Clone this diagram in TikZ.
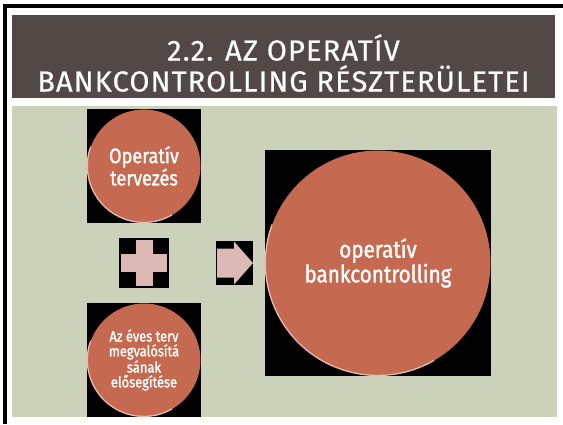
\documentclass[tikz,border=0pt]{standalone}
\usepackage{fontspec}
\setmainfont{Fira Sans}[FakeStretch=0.84]
\newfontfamily\titlefont{Fira Sans}[FakeStretch=1.0, LetterSpace=4, FakeBold=0.6]
\newfontfamily\ballfont{Fira Sans}[FakeStretch=0.86, FakeBold=1.4]
\definecolor{titlebrown}{RGB}{82,73,71}
\definecolor{slidegreen}{RGB}{204,209,186}
\definecolor{ballred}{RGB}{197,106,80}
\definecolor{shapepink}{RGB}{220,185,179}

\begin{document}
\begin{tikzpicture}[x=1pt, y=1pt,
  blackbox/.style={fill=black, inner sep=0pt, minimum size=#1},
  ball/.style={circle, fill=ballred, text=white, align=center, inner sep=0pt, minimum size=#1},
  rim/.style={line width=1.3pt, draw=white!55!ballred}]

  \newcommand\R{56.5}; %% small ball radius
  \newcommand\BR{112.5}; %% big ball radius

  \useasboundingbox (0,0) rectangle (563,424);
  \fill[white] (0,0) rectangle (563,424);
  \fill[black] (3,416) rectangle (563,420); %% top rule
  \fill[black] (3,0) rectangle (7,420); %% left rule
  \fill[titlebrown] (12,326) rectangle (555,409);
  \fill[slidegreen] (12,7) rectangle (557,318);

  \node[text=white, align=center, font=\titlefont\fontsize{29}{31}\selectfont] (title) at (283.5,361)
    {2.2. AZ OPERATÍV\\BANKCONTROLLING RÉSZTERÜLETEI};

  %% left column
  \node[blackbox=114pt] (planbox) at (144,258) {};
  \node[ball=113pt, font=\ballfont\fontsize{21}{19.5}\selectfont] (plan) at (planbox) {Operatív\\tervezés};
  \draw[rim] (plan.160) arc[start angle=160, end angle=300, radius=\R];

  \node[blackbox=50pt] (plusbox) at (144,161) {};
  \fill[shapepink] (135.5,138) rectangle (152.5,184); %% plus, vertical
  \fill[shapepink] (121,152) rectangle (167,170); %% plus, horizontal

  \node[blackbox=114pt] (realbox) at (144,64) {};
  \node[ball=113pt, font=\ballfont\fontsize{15}{14.8}\selectfont] (real) at (realbox)
    {Az éves terv\\megvalósítá\\sának\\elősegítése};
  \draw[rim] (real.160) arc[start angle=160, end angle=300, radius=\R];

  %% arrow
  \node[fill=black, inner sep=0pt, minimum width=37pt, minimum height=44pt] (arrowbox) at (234.5,161) {};
  \fill[shapepink] (217,146.5) -- (234,146.5) -- (234,139.5) -- (253,161)
    -- (234,182.5) -- (234,175.5) -- (217,175.5) -- cycle;

  %% result
  \node[blackbox=226pt] (bankbox) at (378,161) {};
  \node[ball=225pt, font=\ballfont\fontsize{24}{23}\selectfont] (bank) at (bankbox) {operatív\\bankcontrolling};
  \draw[rim] (bank.160) arc[start angle=160, end angle=300, radius=\BR];

\end{tikzpicture}
\end{document}
